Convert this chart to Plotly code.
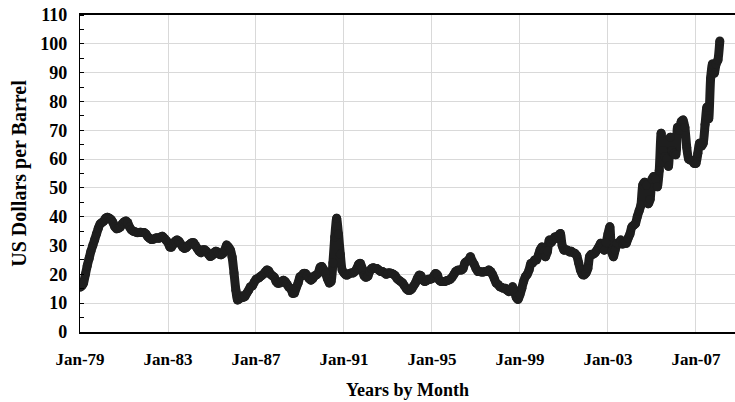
import pandas as pd
import plotly.graph_objects as go

# Monthly prices (US$/bbl), Jan-79 .. Feb-08
P1979 = [15.5, 16, 17, 20, 23, 25.5, 28, 30, 32, 34, 36, 37.5]
P1980 = [38, 38.5, 39.5, 39.8, 39.5, 39, 38, 36.5, 35.8, 36, 36.4, 37.5]
P1981 = [38.2, 38.5, 38, 36.5, 35.5, 35, 34.8, 34.5, 34.5, 34.6, 34.5, 34.5]
P1982 = [34, 33, 32.5, 32.1, 32.2, 32.5, 32.7, 32.5, 33, 33.2, 32.5, 31.8]
P1983 = [31, 29.5, 29.5, 30.5, 31.5, 31.9, 31.5, 30.5, 29.5, 29, 29.3, 30]
P1984 = [30.5, 31, 31, 30, 29, 28, 27.5, 28.5, 28.5, 28, 27, 26.2]
P1985 = [26.5, 27.5, 28, 27.8, 27, 26.8, 27.2, 28.5, 30.2, 29.5, 28.5, 26]
P1986 = [20.5, 14.5, 11.1, 11.5, 12.5, 12, 12.3, 13.5, 14.5, 15.7, 16, 17.2]
P1987 = [18.3, 18.6, 19, 19.5, 20, 20.8, 21.5, 21.2, 20, 19.5, 19, 17.5]
P1988 = [16.9, 17, 17.5, 18, 17.5, 16.5, 15.5, 15, 13.4, 13.5, 15.5, 17]
P1989 = [19.2, 19.5, 20.3, 20.3, 19.5, 18.5, 18, 18.5, 19.5, 19.8, 20.5, 22.5]
P1990 = [22.7, 21.5, 20.3, 18.5, 17, 17.5, 24, 33, 39.5, 34, 27, 21.5]
P1991 = [20.5, 19.8, 19.8, 20.3, 20.5, 20.5, 21, 22, 23.5, 23.8, 22, 19.5]
P1992 = [19, 19.3, 21, 22, 22.3, 22, 22, 21.5, 21, 21, 20.5, 20]
P1993 = [20.5, 20.5, 20.3, 20, 19.5, 18.5, 18, 17.5, 17, 16, 15, 14.5]
P1994 = [14.5, 15, 16, 17, 18.5, 19.7, 19.5, 18, 17.5, 17.8, 18.3, 18.3]
P1995 = [18.5, 19.5, 20.3, 19.8, 18, 17.5, 17.5, 17.5, 17.8, 18, 18.3, 19]
P1996 = [20, 21, 21.4, 21.5, 21.5, 22, 24, 24.5, 25, 26.1, 24.5, 23.5]
P1997 = [22, 21, 21, 20.8, 20.8, 21, 21, 21.5, 21, 20, 18.5, 17]
P1998 = [16.5, 15.7, 15.5, 15.2, 15.2, 14.5, 14, 14.5, 15.7, 14, 12, 11.3]
P1999 = [13, 15.2, 17.5, 19.2, 20, 21.5, 23.8, 24, 25, 25, 26.5, 28.5]
P2000 = [29.5, 28, 26.1, 28, 31.9, 31, 32, 33, 32.5, 33.5, 34.2, 30]
P2001 = [28.4, 28.5, 28.4, 27.8, 28, 27.5, 27.3, 26.5, 24, 21.5, 20, 19.8]
P2002 = [20.5, 22, 26.1, 27, 27, 27.5, 28.4, 29.5, 30.8, 29.5, 28.4, 31]
P2003 = [34, 36.5, 28, 26.1, 28.5, 30.8, 30.5, 31.9, 30.5, 30.8, 30.8, 32.5]
P2004 = [34, 36.5, 37, 37.6, 40, 42, 44, 51, 52, 51, 44.5, 46]
P2005 = [53, 54, 53, 50.4, 56, 69, 63, 60.8, 60, 57.5, 67.6, 63]
P2006 = [62, 61.5, 71, 70, 73, 73.6, 71, 64, 60, 59.7, 59.5, 58.5]
P2007 = [58.5, 62, 65.5, 64.5, 65.5, 72, 78, 74, 88, 93, 89.8, 93]
P2008 = [94.4, 101]

PRICES = (P1979 + P1980 + P1981 + P1982 + P1983 + P1984 + P1985 + P1986 +
          P1987 + P1988 + P1989 + P1990 + P1991 + P1992 + P1993 + P1994 +
          P1995 + P1996 + P1997 + P1998 + P1999 + P2000 + P2001 + P2002 +
          P2003 + P2004 + P2005 + P2006 + P2007 + P2008)

MONTHS = pd.date_range("1979-01-01", periods=len(PRICES), freq="MS")

TICK_DATES = ["1979-01-01", "1983-01-01", "1987-01-01", "1991-01-01",
              "1995-01-01", "1999-01-01", "2003-01-01", "2007-01-01"]
TICK_LABELS = ["Jan-79", "Jan-83", "Jan-87", "Jan-91",
               "Jan-95", "Jan-99", "Jan-03", "Jan-07"]
Y_TICKS = [0, 10, 20, 30, 40, 50, 60, 70, 80, 90, 100, 110]

FONT = "Liberation Serif"
GRID = "#d9d9d9"
INK = "#1e1e1e"

fig = go.Figure()
fig.add_trace(go.Scatter(
    x=MONTHS, y=PRICES, mode="lines+markers",
    line=dict(color=INK, width=9, shape="spline", smoothing=0.6),
    marker=dict(color=INK, size=9, line=dict(width=0)),
    hoverinfo="x+y", showlegend=False,
))

fig.update_layout(
    width=735, height=402,
    margin=dict(l=80, r=0, t=15, b=70),
    paper_bgcolor="white", plot_bgcolor="white",
    font=dict(family=FONT, color="black", size=16),
    xaxis=dict(
        type="date",
        range=["1979-01-01", "2008-10-10"],
        tickvals=TICK_DATES, ticktext=TICK_LABELS,
        showgrid=True, gridcolor=GRID, gridwidth=1.3,
        showline=True, linecolor="black", linewidth=2, mirror=True,
        ticks="", ticklabelstandoff=11, ticklabeloverflow="allow",
        tickfont=dict(family=FONT, size=17, weight="bold", color="black"),
        title=dict(text="Years by Month", standoff=15,
                   font=dict(family=FONT, size=18, weight="bold", color="black")),
        zeroline=False, automargin=False,
    ),
    yaxis=dict(
        range=[0, 110],
        tickvals=Y_TICKS,
        showgrid=True, gridcolor=GRID, gridwidth=1.3,
        showline=True, linecolor="black", linewidth=1.3,
        ticks="", ticklabelstandoff=8, ticklabeloverflow="allow",
        minor=dict(ticks="inside", ticklen=4, tickcolor="black", tickwidth=1,
                   dtick=5, showgrid=False),
        tickfont=dict(family=FONT, size=18, weight="bold", color="black"),
        title=dict(text="US Dollars per Barrel", standoff=8,
                   font=dict(family=FONT, size=20, weight="bold", color="black")),
        zeroline=False, automargin=False,
    ),
)

# remove the browser's default page margin so the 735x402 figure fills the window
fig.write_html(
    "out.html",
    config={"displayModeBar": False},
    post_script="document.body.style.margin='0';document.body.style.overflow='hidden';",
)
